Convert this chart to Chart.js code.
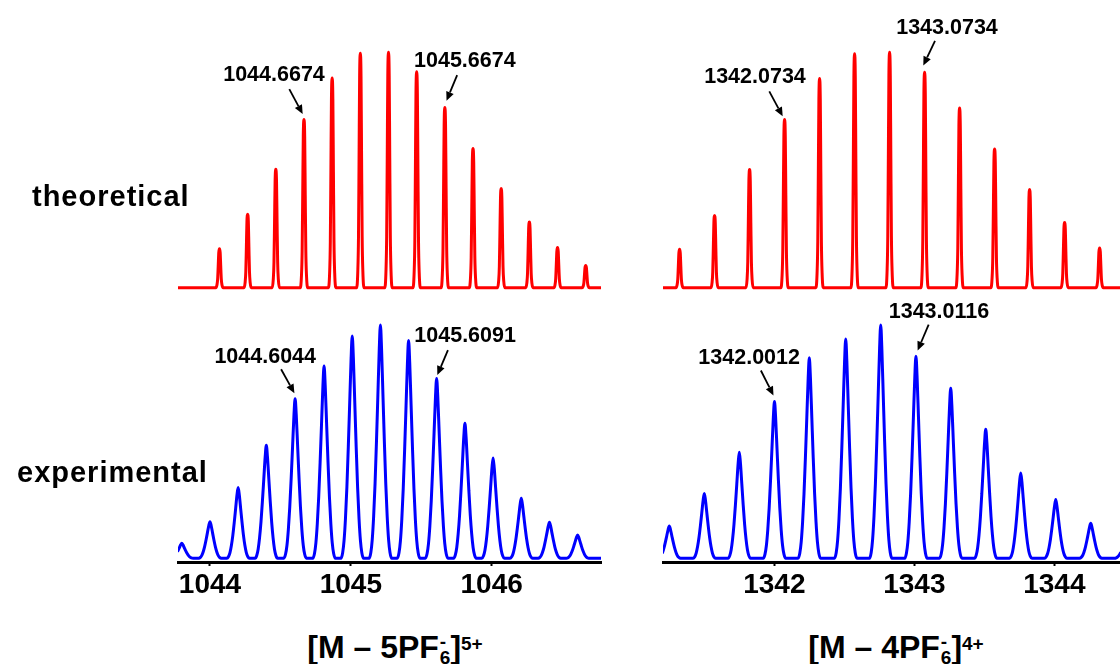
<!DOCTYPE html>
<html>
<head>
<meta charset="utf-8">
<title>Isotope patterns</title>
<script src="https://cdn.jsdelivr.net/npm/chart.js@4.4.1/dist/chart.umd.min.js"></script>
<style>
  body { margin: 0; width: 1120px; height: 664px; position: relative; overflow: hidden; background: #fff;
         font-family: 'Liberation Sans', Arial, Helvetica, sans-serif; color: #000; }
  canvas { position: absolute; }
  .row-label { position: absolute; font-weight: bold; font-size: 29px; line-height: 29px; letter-spacing: 1px; white-space: nowrap; }
  .ion { position: absolute; width: 300px; text-align: center; font-weight: bold; font-size: 32px; line-height: 32px; white-space: nowrap; }
  .ion .scr { position: relative; display: inline-block; width: 0.36em; height: 0; }
  .ion .scr span { position: absolute; left: 1px; font-size: 19px; line-height: 19px; }
  .ion .scr .up { top: -26px; }
  .ion .scr .dn { top: -10px; }
  .ion .sup { font-size: 19px; position: relative; top: -8px; }
</style>
</head>
<body>
<canvas id="theo5" width="480" height="300" style="left:150px; top:0px"></canvas>
<canvas id="exp5" width="480" height="310" style="left:150px; top:300px"></canvas>
<canvas id="theo4" width="480" height="300" style="left:640px; top:0px"></canvas>
<canvas id="exp4" width="480" height="310" style="left:640px; top:300px"></canvas>

<div class="row-label" style="left:32px; top:182px">theoretical</div>
<div class="row-label" style="left:17px; top:458px">experimental</div>

<div class="ion" style="left:245px; top:631px">[M – 5PF<span class="scr"><span class="up">-</span><span class="dn">6</span></span>]<span class="sup">5+</span></div>
<div class="ion" style="left:746px; top:631px">[M – 4PF<span class="scr"><span class="up">-</span><span class="dn">6</span></span>]<span class="sup">4+</span></div>

<script>
// [M - 5PF6]5+ : calculated and measured isotope peaks (m/z, relative intensity)
const mzTheo5 = [1044.0674, 1044.2674, 1044.4674, 1044.6674, 1044.8674, 1045.0674, 1045.2674,
                 1045.4674, 1045.6674, 1045.8674, 1046.0674, 1046.2674, 1046.4674, 1046.6674];
const intTheo5 = [0.166, 0.312, 0.503, 0.715, 0.891, 0.996, 1.0, 0.917, 0.766, 0.591, 0.421, 0.279, 0.171, 0.095];
const mzExp5 = [1043.80, 1044.00, 1044.20, 1044.40, 1044.6044, 1044.81, 1045.01, 1045.21,
                1045.41, 1045.6091, 1045.81, 1046.01, 1046.21, 1046.41, 1046.61];
const intExp5 = [0.064, 0.157, 0.303, 0.484, 0.684, 0.824, 0.953, 1.0, 0.933, 0.771, 0.579, 0.43, 0.257, 0.154, 0.10];
const ticks5 = [1044, 1045, 1046];

// [M - 4PF6]4+
const mzTheo4 = [1341.3234, 1341.5734, 1341.8234, 1342.0734, 1342.3234, 1342.5734, 1342.8234,
                 1343.0734, 1343.3234, 1343.5734, 1343.8234, 1344.0734, 1344.3234];
const intTheo4 = [0.163, 0.307, 0.502, 0.714, 0.889, 0.994, 1.0, 0.915, 0.763, 0.589, 0.417, 0.277, 0.169];
const mzExp4 = [1341.25, 1341.50, 1341.75, 1342.0012, 1342.25, 1342.51, 1342.76,
                1343.0116, 1343.26, 1343.51, 1343.76, 1344.01, 1344.26, 1344.51];
const intExp4 = [0.138, 0.278, 0.454, 0.672, 0.859, 0.940, 1.0, 0.866, 0.729, 0.553, 0.366, 0.252, 0.150, 0.07];
const ticks4 = [1342, 1343, 1344];

// labelled peaks
const marked5Theo = [1044.6674, 1045.6674];
const marked5Exp = [1044.6044, 1045.6091];
const marked4Theo = [1342.0734, 1343.0734];
const marked4Exp = [1342.0012, 1343.0116];

Chart.defaults.font.family = "'Liberation Sans', Arial, Helvetica, sans-serif";
Chart.defaults.color = '#000';

// half peak profiles (offset in m/z, fraction of height)
const THEO_HALF = [[0, 1], [0.005, 0.9], [0.009, 0.55], [0.013, 0.22], [0.018, 0.07], [0.026, 0]];
const EXP_HALF = [[0, 1], [0.008, 0.9], [0.018, 0.7], [0.028, 0.5], [0.038, 0.32], [0.048, 0.18],
                  [0.058, 0.08], [0.068, 0.025], [0.08, 0]];

function mirror(half) {
  const left = half.slice(1).map(([d, f]) => [-d, f]).reverse();
  return left.concat(half);
}

function trace(mz, inten, half, lo, hi) {
  const shape = mirror(half);
  const pts = [{ x: lo - 1, y: 0 }, { x: hi + 1, y: 0 }];
  mz.forEach((c, i) => shape.forEach(([d, f]) => pts.push({ x: c + d, y: inten[i] * f })));
  return pts.sort((a, b) => a.x - b.x);
}

// label text + arrow, offsets in px from the peak apex
const CALLOUTS = {};
function callouts(id, mz, inten, marked, geo) {
  CALLOUTS[id] = marked.map((v, i) => Object.assign({ mz: v, top: inten[mz.indexOf(v)] }, geo[i]));
}

function drawArrow(ctx, x0, y0, x1, y1) {
  const a = Math.atan2(y1 - y0, x1 - x0), len = 9, half = 4;
  const bx = x1 - len * Math.cos(a), by = y1 - len * Math.sin(a);
  ctx.lineWidth = 1.8;
  ctx.beginPath();
  ctx.moveTo(x0, y0);
  ctx.lineTo(bx, by);
  ctx.stroke();
  ctx.beginPath();
  ctx.moveTo(x1, y1);
  ctx.lineTo(bx + half * Math.sin(a), by - half * Math.cos(a));
  ctx.lineTo(bx - half * Math.sin(a), by + half * Math.cos(a));
  ctx.closePath();
  ctx.fill();
}

const calloutPlugin = {
  id: 'callouts',
  afterDatasetsDraw(chart) {
    const items = CALLOUTS[chart.canvas.id] || [];
    const ctx = chart.ctx, xs = chart.scales.x, ys = chart.scales.y;
    ctx.save();
    ctx.fillStyle = '#000';
    ctx.strokeStyle = '#000';
    ctx.font = "bold 21.5px 'Liberation Sans', Arial, sans-serif";
    ctx.textAlign = 'center';
    ctx.textBaseline = 'alphabetic';
    items.forEach(c => {
      const px = xs.getPixelForValue(c.mz), py = ys.getPixelForValue(c.top);
      ctx.fillText(c.mz.toFixed(4), px + c.text[0], py + c.text[1]);
      drawArrow(ctx, px + c.tail[0], py + c.tail[1], px + c.tip[0], py + c.tip[1]);
    });
    ctx.restore();
  }
};

function panel(id, o) {
  const xAxis = {
    type: 'linear', min: o.xMin, max: o.xMax, display: !!o.ticks
  };
  if (o.ticks) {
    Object.assign(xAxis, {
      afterBuildTicks: s => { s.ticks = o.ticks.map(v => ({ value: v })); },
      afterFit: s => { s.height = 48; },
      border: { display: true, color: '#000', width: 3 },
      grid: { display: true, drawOnChartArea: false, drawTicks: true, tickLength: 4, tickWidth: 2, tickColor: '#000' },
      ticks: { color: '#000', padding: 2, maxRotation: 0, autoSkip: false,
               font: { size: 28, weight: 'bold' }, callback: v => String(v) }
    });
  }
  return new Chart(document.getElementById(id), {
    type: 'line',
    data: {
      datasets: [{
        data: o.points,
        borderColor: o.color,
        borderWidth: 3,
        pointRadius: 0,
        fill: false,
        cubicInterpolationMode: 'monotone',
        borderJoinStyle: 'round',
        borderCapStyle: 'round'
      }]
    },
    options: {
      responsive: false,
      animation: false,
      events: [],
      layout: { padding: o.padding },
      plugins: { legend: { display: false }, tooltip: { enabled: false } },
      scales: {
        x: xAxis,
        y: { display: false, min: o.yMin, max: o.yMax }
      }
    },
    plugins: [calloutPlugin]
  });
}

const X5 = [1043.773, 1046.776];
const X4 = [1341.205, 1344.469];
const padL = { left: 28, right: 29, top: 0, bottom: 0 };
const padR = { left: 23, right: 0, top: 0, bottom: 0 };

callouts('theo5', mzTheo5, intTheo5, marked5Theo, [
  { text: [-30, -38.6], tail: [-14.7, -30.3], tip: [-1.3, -5.3] },
  { text: [20, -40], tail: [12.3, -32.3], tip: [1.7, -6.6] }
]);
callouts('exp5', mzExp5, intExp5, marked5Exp, [
  { text: [-29.9, -35.4], tail: [-14, -29.4], tip: [-0.7, -5.4] },
  { text: [28.5, -36], tail: [11.3, -28.3], tip: [0.7, -3.3] }
]);
callouts('theo4', mzTheo4, intTheo4, marked4Theo, [
  { text: [-29.6, -36.6], tail: [-15.3, -28.3], tip: [-1.9, -3.3] },
  { text: [22.4, -38.4], tail: [10.4, -31.4], tip: [-1.3, -6.7] }
]);
callouts('exp4', mzExp4, intExp4, marked4Exp, [
  { text: [-25.3, -37.7], tail: [-13.6, -31], tip: [-1, -6] },
  { text: [23, -38.4], tail: [12.7, -31.7], tip: [1.7, -5.7] }
]);

panel('theo5', { xMin: X5[0], xMax: X5[1], yMin: -0.052, yMax: 1.222, padding: padL, color: '#ff0000',
  points: trace(mzTheo5, intTheo5, THEO_HALF, X5[0], X5[1]) });
panel('exp5', { xMin: X5[0], xMax: X5[1], yMin: -0.016, yMax: 1.107, padding: padL, color: '#0000ff',
  ticks: ticks5, points: trace(mzExp5, intExp5, EXP_HALF, X5[0], X5[1]) });
panel('theo4', { xMin: X4[0], xMax: X4[1], yMin: -0.052, yMax: 1.222, padding: padR, color: '#ff0000',
  points: trace(mzTheo4, intTheo4, THEO_HALF, X4[0], X4[1]) });
panel('exp4', { xMin: X4[0], xMax: X4[1], yMin: -0.016, yMax: 1.107, padding: padR, color: '#0000ff',
  ticks: ticks4, points: trace(mzExp4, intExp4, EXP_HALF, X4[0], X4[1]) });
</script>
</body>
</html>
